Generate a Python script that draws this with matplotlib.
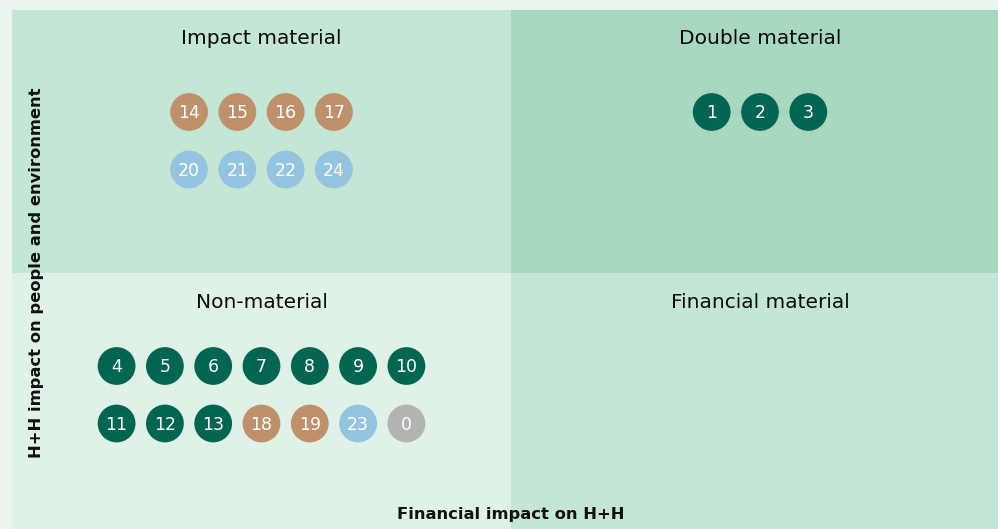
import matplotlib.pyplot as plt
from matplotlib.patches import Rectangle

# Materiality matrix data
quadrant_titles = ['Impact material', 'Double material', 'Non-material', 'Financial material']
impact_rows = [[14, 15, 16, 17], [20, 21, 22, 24]]
impact_cats = [['tan'] * 4, ['blue'] * 4]
double_rows = [[1, 2, 3]]
double_cats = [['green'] * 3]
non_rows = [[4, 5, 6, 7, 8, 9, 10], [11, 12, 13, 18, 19, 23, 0]]
non_cats = [['green'] * 7, ['green', 'green', 'green', 'tan', 'tan', 'blue', 'grey']]
financial_rows = []
financial_cats = []

colors = {'green': '#006651', 'tan': '#BF916B', 'blue': '#94C4E0', 'grey': '#B3B3B3'}

W, H = 998, 529
fig = plt.figure(figsize=(W / 100, H / 100), dpi=100)
fig.patch.set_facecolor('#EBF5F0')
ax = fig.add_axes([0, 0, 1, 1])
ax.set_xlim(0, W)
ax.set_ylim(H, 0)
ax.axis('off')

# quadrant boxes: (left, top, right, bottom, color, first row offset)
left, mid_x, right = 12, 511, 1009
top, mid_y, bottom = 10, 273, 540
quads = [
    (left, top, mid_x, mid_y, '#C3E6D5', 102),
    (mid_x, top, right, mid_y, '#A8D8C0', 102),
    (left, mid_y, mid_x, bottom, '#E0F1E8', 93),
    (mid_x, mid_y, right, bottom, '#C3E6D5', 93),
]
quad_items = [(impact_rows, impact_cats), (double_rows, double_cats),
              (non_rows, non_cats), (financial_rows, financial_cats)]

spacing = 48.3
row_gap = 57.5
for (x0, y0, x1, y1, fc, off), title, (rows, cats) in zip(quads, quadrant_titles, quad_items):
    ax.add_patch(Rectangle((x0, y0), x1 - x0, y1 - y0, facecolor=fc, edgecolor='none', zorder=0))
    cx = (x0 + x1) / 2 if x1 < W else 760
    ax.text(cx, y0 + 29, title, ha='center', va='center', fontsize=14.5, color='#0a0a0a')
    for r, (nums, cs) in enumerate(zip(rows, cats)):
        n = len(nums)
        xs = [cx + (i - (n - 1) / 2) * spacing for i in range(n)]
        y = y0 + off + r * row_gap
        ax.scatter(xs, [y] * n, s=740, c=[colors[c] for c in cs], edgecolors='none', zorder=2)
        for x, num in zip(xs, nums):
            ax.text(x, y + 1, str(num), ha='center', va='center', fontsize=12.5,
                    color='white', zorder=3)

ax.text(37, 273, 'H+H impact on people and environment', rotation=90, ha='center',
        va='center', fontsize=11.8, fontweight='bold', color='#111111')
ax.text(511, 514, 'Financial impact on H+H', ha='center', va='center',
        fontsize=11.8, fontweight='bold', color='#111111')

fig.savefig('out.png', dpi=100, facecolor=fig.get_facecolor())
